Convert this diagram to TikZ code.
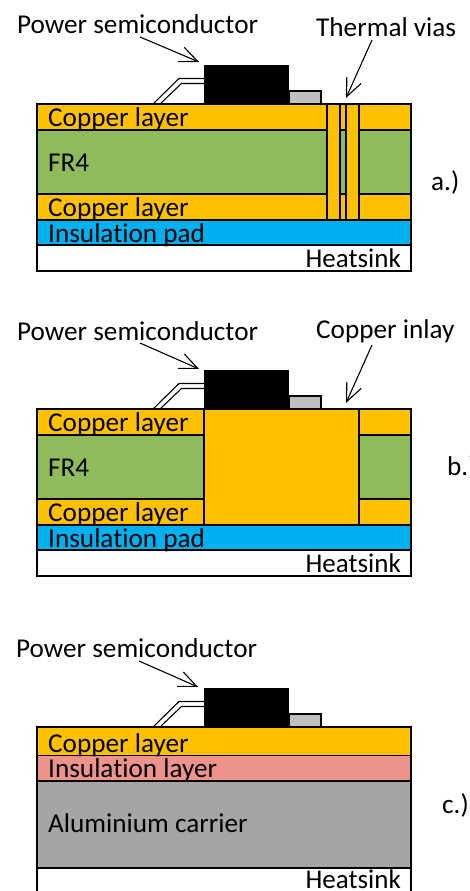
\documentclass[tikz,border=0pt]{standalone}
\usepackage{fontspec}
\setmainfont{Carlito}[Ligatures=NoCommon]
\usetikzlibrary{arrows.meta}
\definecolor{copper}{HTML}{FFC000}
\definecolor{fiber}{HTML}{8FBB5A}
\definecolor{pad}{HTML}{00B0F0}
\definecolor{ceramic}{HTML}{EE938C}
\definecolor{alu}{HTML}{A5A5A5}
\definecolor{tabgray}{HTML}{BFBFBF}
\begin{document}
\begin{tikzpicture}[
	x=1pt,
	y=-1pt,
	line join=miter,
	>={Straight Barb[length=18pt,width=15.6pt]},
	layer/.style={draw=black, line width=1.1pt},
	pointer/.style={->, line width=1.1pt},
	lbl/.style={anchor=base west, inner sep=0pt, yshift=-.8pt, font=\fontsize{27.2}{27.2}\selectfont},
	rlbl/.style={anchor=base east, inner sep=0pt, yshift=-.8pt, font=\fontsize{27}{27}\selectfont},
	]
\clip (0,0) rectangle (470,891);
\fill[white] (0,0) rectangle (470,891);
% a.)
\draw[layer, fill=copper] (37,104) rectangle (411,130);
\draw[layer, fill=fiber] (37,130) rectangle (411,194);
\draw[layer, fill=copper] (37,194) rectangle (411,220);
\draw[layer, fill=pad] (37,220) rectangle (411,245);
\draw[layer, fill=white] (37,245) rectangle (411,271);
\foreach \x in {327, 346}
	\draw[layer, fill=copper] (\x,104) rectangle (\x+13,220);
% b.)
\draw[layer, fill=copper] (37,409) rectangle (411,435);
\draw[layer, fill=fiber] (37,435) rectangle (411,499);
\draw[layer, fill=copper] (37,499) rectangle (411,525);
\draw[layer, fill=pad] (37,525) rectangle (411,550);
\draw[layer, fill=white] (37,550) rectangle (411,576);
\draw[layer, fill=copper] (204,409) rectangle (359,525);
% c.)
\draw[layer, fill=copper] (37,727) rectangle (411,755.5);
\draw[layer, fill=ceramic] (37,755.5) rectangle (411,781);
\draw[layer, fill=alu] (37,781) rectangle (411,868);
\draw[layer, fill=white] (37,868) rectangle (411,900);
% chip, tab and leads
\foreach \y in {65, 370, 688}
	{
	\fill (204,\y) rectangle (289,\y+39);
	\draw[layer, fill=tabgray] (289,\y+26) rectangle (321,\y+39);
	\draw[line width=1.1pt] (153,\y+39) -- (179,\y+13.5) -- (204,\y+13.5);
	\draw[line width=1.1pt] (160,\y+39) -- (181.5,\y+18.5) -- (204,\y+18.5);
	}
% texts
\node[lbl] (powera) at (17,32.7) {Power semiconductor};
\node[lbl] (vias) at (316,35.7) {Thermal vias};
\node[lbl] (cua) at (48,126) {Copper layer};
\node[lbl] (fra) at (48,171) {FR4};
\node[lbl] (cub) at (48,216) {Copper layer};
\node[lbl] (pada) at (48,241.7) {Insulation pad};
\node[rlbl] (hsa) at (401,266.7) {Heatsink};
\node[lbl] (taga) at (431,190) {a.)};
\node[lbl] (powerb) at (17,340) {Power semiconductor};
\node[lbl] (inlay) at (316,338) {Copper inlay};
\node[lbl] (cuc) at (48,430.7) {Copper layer};
\node[lbl] (frb) at (48,475.7) {FR4};
\node[lbl] (cud) at (48,520.7) {Copper layer};
\node[lbl] (padb) at (48,546.7) {Insulation pad};
\node[rlbl] (hsb) at (401,571.7) {Heatsink};
\node[lbl] (tagb) at (447,475) {b.)};
\node[lbl] (powerc) at (16,656.7) {Power semiconductor};
\node[lbl] (cue) at (48,751.7) {Copper layer};
\node[lbl] (padc) at (48,776.7) {Insulation layer};
\node[lbl] (carrier) at (48,832) {Aluminium carrier};
\node[rlbl] (hsc) at (401,888) {Heatsink};
\node[lbl] (tagc) at (442,812.7) {c.)};
% arrows
\coordinate (pa0) at (140,37);
\coordinate (pa1) at (199,62);
\coordinate (va0) at (372,40);
\coordinate (va1) at (346,98);
\coordinate (pb0) at (140,343);
\coordinate (pb1) at (199,369);
\coordinate (ib0) at (372,345);
\coordinate (ib1) at (346,403);
\coordinate (pc0) at (139,661);
\coordinate (pc1) at (198,687);
\draw[pointer] (pa0) -- (pa1);
\draw[pointer] (va0) -- (va1);
\draw[pointer] (pb0) -- (pb1);
\draw[pointer] (ib0) -- (ib1);
\draw[pointer] (pc0) -- (pc1);
\end{tikzpicture}
\end{document}
